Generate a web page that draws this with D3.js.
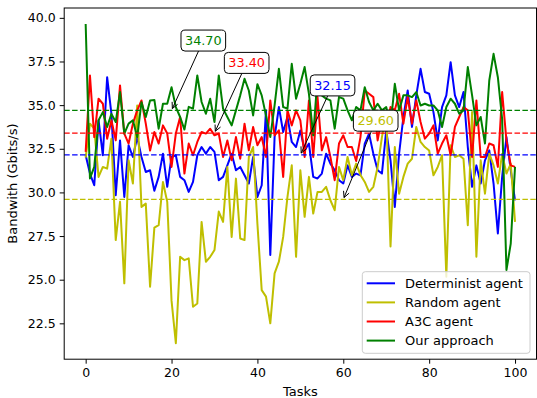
<!DOCTYPE html>
<html><head><meta charset="utf-8">
<script src="https://cdn.jsdelivr.net/npm/d3@7"></script>
<style>body{margin:0;background:#fff} text{font-family:"DejaVu Sans",sans-serif;fill:#000}</style>
</head><body><svg id="c" width="537" height="398"></svg>
<script>
const tasks = d3.range(0, 101);
const determinist = [32.13,31.08,30.41,34.13,32.13,36.6,34.5,29.84,32.98,29.74,32.7,32.03,33.17,32.03,31.17,31.27,30.1,30.89,32.22,30.32,32.03,32.13,30.89,30.7,30.03,30.6,32.13,32.6,32.22,32.6,32.32,30.7,30.89,31.55,32.22,31.27,31.46,30.98,30.51,32.03,29.74,30.41,34.7,26.41,33.17,34.89,33.46,34.32,32.89,32.6,33.55,32.41,32.8,30.89,30.8,31.08,32.22,31.65,31.27,30.7,30.51,31.55,30.89,31.08,30.98,32.8,33.36,32.22,31.27,31.08,33.55,31.84,29.17,32.22,34.32,35.84,33.75,35.56,37.08,35.75,35.65,34.6,32.98,34.89,35.56,37.46,35.56,34.89,35.75,32.6,30.32,31.55,30.51,31.84,32.41,30.51,27.65,30.89,33.17,31.27,29.55];
const randomAgent = [32.0,33.94,33.65,30.89,31.46,31.36,33.08,27.27,29.46,24.79,31.84,30.51,34.98,29.17,29.36,24.6,27.98,28.12,30.6,29.46,23.8,21.36,26.31,26.12,26.22,23.45,23.64,28.31,26.03,26.31,26.7,28.9,28.31,31.46,27.45,30.79,27.36,27.27,32.03,32.6,28.2,24.4,24.03,22.5,25.36,26.03,27.45,29.74,31.55,26.31,31.27,28.6,30.89,28.79,30.03,30.03,30.32,29.55,28.98,31.46,30.7,32.03,30.98,31.65,31.0,30.6,30.03,30.32,31.46,33.17,34.5,26.9,32.6,29.93,30.89,31.65,31.93,33.75,32.89,32.6,32.4,30.98,31.46,32.13,25.17,32.7,32.03,32.13,31.93,28.12,34.6,26.31,31.84,29.93,32.22,31.55,30.51,32.22,31.08,31.65,28.31];
const a3c = [32.32,36.7,33.17,35.37,35.08,33.08,34.13,32.98,36.13,33.37,32.8,33.94,34.7,35.27,33.94,32.4,33.46,32.8,33.84,33.37,31.46,33.37,34.32,31.08,32.8,32.13,32.89,33.46,33.37,33.65,33.27,33.37,32.03,32.98,31.84,33.17,31.93,33.94,32.41,33.75,32.7,33.17,32.03,35.27,33.27,33.56,30.89,34.7,33.84,34.7,34.13,32.03,35.27,32.03,35.46,32.41,33.17,32.03,30.7,32.8,33.27,32.6,32.6,31.8,33.17,35.84,35.65,35.46,32.98,34.32,33.55,34.89,34.7,35.65,33.94,35.46,33.94,35.27,34.03,33.08,33.37,33.84,32.22,32.8,33.27,32.13,33.75,34.32,34.89,34.7,32.03,35.27,32.03,32.03,32.8,32.7,31.46,35.75,32.98,31.55,31.46];
const ourApproach = [39.65,30.8,31.46,34.13,34.6,33.75,34.5,34.03,35.75,33.37,33.94,34.13,33.17,35.17,34.32,35.27,35.3,33.65,35.08,35.08,36.03,34.89,34.32,33.6,34.9,34.8,36.7,35.18,34.51,35.37,34.03,36.7,34.8,34.32,33.84,34.7,35.56,36.51,35.84,34.41,36.2,35.56,34.41,33.17,34.98,37.08,34.89,34.8,37.37,35.37,36.22,37.18,35.65,33.27,36.6,35.56,35.37,35.27,33.65,35.46,35.37,34.7,34.13,34.89,34.7,36.03,35.18,34.7,35.08,34.7,34.89,33.84,36.22,34.7,35.56,35.56,35.46,35.75,34.98,35.08,34.98,34.98,34.7,33.75,34.89,35.37,35.08,34.51,34.7,37.18,35.56,33.84,34.32,32.8,36.41,37.94,36.6,34.2,25.55,27.07,31.46];
const seriesNames = ["Determinist agent", "Random agent", "A3C agent", "Our approach"];
const seriesColors = ["#0000ff", "#bfbf00", "#ff0000", "#008000"];
const meanValues = [32.15, 29.60, 33.40, 34.70];
const meanLabels = ["32.15", "29.60", "33.40", "34.70"];
const annotTaskX = [50, 60, 30, 20];
const xTicks = [0, 20, 40, 60, 80, 100];
const yTicks = [22.5, 25.0, 27.5, 30.0, 32.5, 35.0, 37.5, 40.0];

const series = [determinist, randomAgent, a3c, ourApproach];
const svg = d3.select("#c");
const L = 64.2, R = 536.5, T = 8, B = 359.2;

const all = series.flat();
const ymin = d3.min(all), ymax = d3.max(all), ym = (ymax - ymin) * 0.05;
const x = d3.scaleLinear().domain([-5, 105]).range([L, R]);
const y = d3.scaleLinear().domain([ymin - ym, ymax + ym]).range([B, T]);

// lines
const line = d3.line().x((d, i) => x(tasks[i])).y(d => y(d));
series.forEach((s, k) => {
  svg.append("path").datum(s).attr("d", line).attr("fill", "none")
    .attr("stroke", seriesColors[k]).attr("stroke-width", 2).attr("stroke-linejoin", "round");
});
// mean dashed lines
meanValues.forEach((v, k) => {
  svg.append("line").attr("x1", L).attr("x2", R).attr("y1", y(v)).attr("y2", y(v))
    .attr("stroke", seriesColors[k]).attr("stroke-width", 1.3).attr("stroke-dasharray", "5.5,2.4");
});

// frame
svg.append("rect").attr("x", L).attr("y", T).attr("width", R - L).attr("height", B - T)
  .attr("fill", "none").attr("stroke", "#000").attr("stroke-width", 1);

// axes
const xAxis = d3.axisBottom(x).tickValues(xTicks).tickSize(4.5).tickPadding(4).tickFormat(d3.format("d"));
const gx = svg.append("g").attr("transform", `translate(0,${B})`).call(xAxis);
const yAxis = d3.axisLeft(y).tickValues(yTicks).tickSize(4.5).tickPadding(4).tickFormat(d3.format(".1f"));
const gy = svg.append("g").attr("transform", `translate(${L},0)`).call(yAxis);
[gx, gy].forEach(g => {
  g.select(".domain").remove();
  g.selectAll("text").attr("font-family", "DejaVu Sans").attr("font-size", 12.5).attr("fill", "#000");
  g.selectAll("line").attr("stroke", "#000");
});
svg.append("text").attr("x", (L + R) / 2).attr("y", 396).attr("text-anchor", "middle")
  .attr("font-size", 13).text("Tasks");
svg.append("text").attr("transform", `translate(17,${(T + B) / 2}) rotate(-90)`)
  .attr("text-anchor", "middle").attr("font-size", 13).text("Bandwith (Gbits/s)");

// annotations (text centre in data units, like matplotlib xytext)
const annotText = [[57.5, 36.13], [67.55, 34.11], [37.5, 37.42], [27.4, 38.7]];
meanValues.forEach((v, k) => {
  const cx = x(annotText[k][0]), cy = y(annotText[k][1]);
  const tx = x(annotTaskX[k]), ty = y(v);
  const g = svg.append("g");
  const t = g.append("text").attr("x", cx).attr("y", cy).attr("text-anchor", "middle")
    .attr("dominant-baseline", "central").attr("font-size", 12.8)
    .attr("fill", seriesColors[k]).style("fill", seriesColors[k]).text(meanLabels[k]);
  const bb = t.node().getBBox();
  const w = bb.width + 8, h = 21;
  // arrow from box edge to target
  const dx = tx - cx, dy = ty - cy;
  const tEdge = Math.min(Math.abs((w / 2) / dx), Math.abs((h / 2) / dy));
  const sx = cx + dx * tEdge, sy = cy + dy * tEdge;
  const len = Math.hypot(dx, dy), ux = dx / len, uy = dy / len;
  const ex = tx - ux * 2, ey = ty - uy * 2;
  const hl = 6, hw = 3;
  svg.append("line").attr("x1", sx).attr("y1", sy).attr("x2", ex).attr("y2", ey)
    .attr("stroke", "#000").attr("stroke-width", 1);
  svg.append("path").attr("d", `M${ex - ux * hl - uy * hw},${ey - uy * hl + ux * hw}L${ex},${ey}L${ex - ux * hl + uy * hw},${ey - uy * hl - ux * hw}`)
    .attr("fill", "none").attr("stroke", "#000").attr("stroke-width", 1);
  g.insert("rect", "text").attr("x", cx - w / 2).attr("y", cy - h / 2).attr("width", w).attr("height", h)
    .attr("rx", 4).attr("fill", "#fff").attr("stroke", "#000").attr("stroke-width", 1);
  g.raise();
});

// legend
const lg = svg.append("g");
lg.append("rect").attr("x", 362.3).attr("y", 271.7).attr("width", 167.7).attr("height", 81.6)
  .attr("rx", 3).attr("fill", "#fff").attr("fill-opacity", 0.8).attr("stroke", "#cccccc").attr("stroke-width", 1);
seriesNames.forEach((n, k) => {
  const yy = 283.3 + k * 19.1;
  lg.append("line").attr("x1", 366.7).attr("x2", 395).attr("y1", yy).attr("y2", yy)
    .attr("stroke", seriesColors[k]).attr("stroke-width", 2);
  lg.append("text").attr("x", 405).attr("y", yy).attr("dominant-baseline", "central")
    .attr("font-size", 13).text(n);
});
</script></body></html>
